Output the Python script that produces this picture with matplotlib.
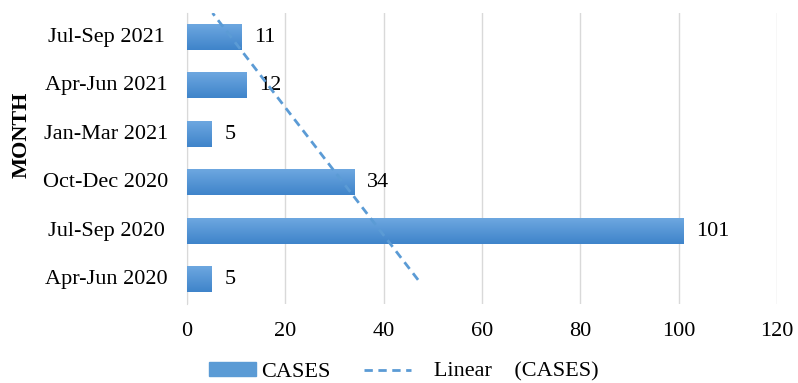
import numpy as np
import matplotlib.pyplot as plt
import matplotlib.transforms as mtransforms
from matplotlib.patches import Patch
from matplotlib.lines import Line2D
from matplotlib.colors import LinearSegmentedColormap

plt.rcParams['font.family'] = ['Liberation Serif', 'DejaVu Serif']

months = ['Apr-Jun 2020', 'Jul-Sep 2020', 'Oct-Dec 2020',
          'Jan-Mar 2021', 'Apr-Jun 2021', 'Jul-Sep 2021']
cases = [5, 101, 34, 5, 12, 11]

fs = 16
fig = plt.figure(figsize=(7.98, 3.83), dpi=100)
ax = fig.add_axes([0.2343, 0.206, 0.7394, 0.760])

pos = np.arange(len(months))
bar_h = 0.52
bars = ax.barh(pos, cases, height=bar_h, color='#5b9bd5', zorder=2)

# vertical gradient inside each bar
grad = LinearSegmentedColormap.from_list('g', ['#3f84ca', '#6da7e0'])
for b in bars:
    x0, y0 = b.get_x(), b.get_y()
    w, h = b.get_width(), b.get_height()
    ax.imshow(np.linspace(0, 1, 50).reshape(-1, 1), cmap=grad, aspect='auto',
              extent=[x0, x0 + w, y0, y0 + h], origin='lower', zorder=3)
    b.set_alpha(0)

for p, v in zip(pos, cases):
    ax.text(v + 2.6, p, str(v), va='center', ha='left', fontsize=fs, zorder=4)

# linear trendline over the category index
xi = pos + 1
k, c = np.polyfit(xi, cases, 1)
tx = np.array([1, 6.5])
ax.plot(k * tx + c, tx - 1, ls=(0, (3, 2)), color='#5b9bd5', lw=2, zorder=4)

ax.set_xlim(0, 120)
ax.set_ylim(-0.5, 5.5)
ax.set_xticks(range(0, 121, 20))
ax.set_yticks(pos)
ax.set_yticklabels([])
ax.tick_params(length=0, labelsize=fs)
ax.tick_params(axis='x', pad=13)

# category labels centred in the left margin
trans = mtransforms.blended_transform_factory(fig.transFigure, ax.transData)
for p, m in zip(pos, months):
    ax.text(106 / 798, p, m, transform=trans, ha='center', va='center', fontsize=fs)

ax.grid(axis='x', color='#d9d9d9', lw=1, zorder=0)
for s in ['top', 'right', 'bottom']:
    ax.spines[s].set_visible(False)
ax.spines['left'].set_color('#d9d9d9')
fig.text(22 / 798, 1 - 135 / 383, 'MONTH', rotation=90, ha='center', va='center',
         fontsize=fs, fontweight='bold')

handles = [Patch(color='#5b9bd5', label='CASES'),
           Line2D([0], [0], color='#5b9bd5', ls=(0, (3, 2)), lw=2,
                  label='   Linear    (CASES)')]
fig.legend(handles=handles, loc='center', bbox_to_anchor=(0.506, 1 - 372 / 383), ncol=2,
           frameon=False, fontsize=fs, handlelength=2.1, handleheight=0.6,
           handletextpad=0.25, columnspacing=1.5, borderpad=0)

fig.savefig('out.png', dpi=100)
